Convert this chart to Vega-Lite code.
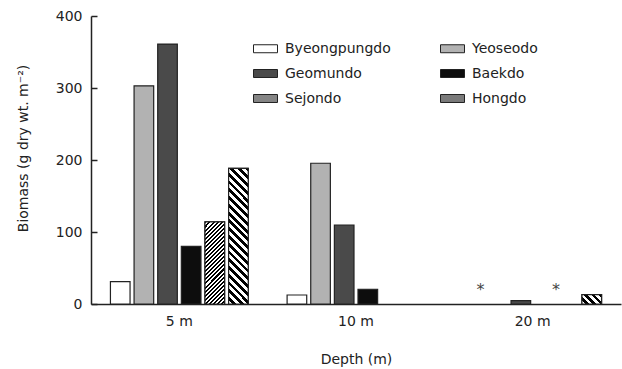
{
  "$schema": "https://vega.github.io/schema/vega-lite/v6.json",
  "width": 530,
  "height": 288,
  "autosize": "none",
  "padding": {"left": 91, "top": 16, "right": 1, "bottom": 65},
  "background": "white",
  "config": {
    "font": "DejaVu Sans",
    "view": {"stroke": null},
    "axis": {"labelFont": "DejaVu Sans", "titleFont": "DejaVu Sans", "labelFontSize": 14, "titleFontSize": 14, "titleFontWeight": "normal", "labelColor": "#222", "titleColor": "#222", "domainColor": "#222", "domainWidth": 1.5, "grid": false},
    "legend": {"labelFont": "DejaVu Sans"}
  },
  "data": {
    "values": [
      {"depth": "5 m", "site": "Byeongpungdo", "biomass": 31},
      {"depth": "5 m", "site": "Yeoseodo", "biomass": 303},
      {"depth": "5 m", "site": "Geomundo", "biomass": 361},
      {"depth": "5 m", "site": "Baekdo", "biomass": 80},
      {"depth": "5 m", "site": "Sejondo", "biomass": 114},
      {"depth": "5 m", "site": "Hongdo", "biomass": 188.5},
      {"depth": "10 m", "site": "Byeongpungdo", "biomass": 12.5},
      {"depth": "10 m", "site": "Yeoseodo", "biomass": 195.5},
      {"depth": "10 m", "site": "Geomundo", "biomass": 109.5},
      {"depth": "10 m", "site": "Baekdo", "biomass": 20.5},
      {"depth": "20 m", "site": "Geomundo", "biomass": 4.6},
      {"depth": "20 m", "site": "Hongdo", "biomass": 13},
      {"depth": "20 m", "site": "Byeongpungdo", "biomass": 0, "note": "*"},
      {"depth": "20 m", "site": "Baekdo", "biomass": 0, "note": "*"}
    ]
  },
  "encoding": {
    "x": {
      "field": "depth", "type": "nominal", "sort": ["5 m", "10 m", "20 m"],
      "scale": {"paddingInner": 0.22, "paddingOuter": 0.11},
      "axis": {"title": "Depth (m)", "labelAngle": 0, "ticks": false, "tickSize": 0, "labelPadding": 10, "titleY": 55, "titleBaseline": "middle"}
    },
    "xOffset": {
      "field": "site", "type": "nominal",
      "scale": {"domain": ["Byeongpungdo", "Yeoseodo", "Geomundo", "Baekdo", "Sejondo", "Hongdo"], "paddingInner": 0.17, "paddingOuter": 0}
    },
    "y": {
      "field": "biomass", "type": "quantitative",
      "scale": {"domain": [0, 400], "nice": false},
      "axis": {"title": "Biomass (g dry wt. m⁻²)", "values": [0, 100, 200, 300, 400], "tickSize": -6, "tickColor": "#222", "tickWidth": 1.5, "labelPadding": 15, "titleX": -68, "titleY": 132, "titleBaseline": "middle", "titleAngle": 270}
    }
  },
  "layer": [
    {
      "transform": [{"filter": "!datum.note"}],
      "mark": {"type": "bar", "stroke": "#222", "strokeWidth": 1.2},
      "encoding": {
        "fill": {
          "field": "site", "type": "nominal",
          "scale": {"domain": ["Byeongpungdo", "Geomundo", "Sejondo", "Yeoseodo", "Baekdo", "Hongdo"], "range": ["#ffffff", "#4a4a4a", "#858585", "#b2b2b2", "#0d0d0d", "#7a7a7a"]},
          "legend": {
            "title": null, "orient": "none", "legendX": 162, "legendY": 20, "columns": 2, "columnPadding": 47, "rowPadding": 5, "padding": 0,
            "symbolType": "M-1,-0.333L1,-0.333L1,0.333L-1,0.333Z", "symbolSize": 576, "symbolStrokeColor": "#222", "symbolStrokeWidth": 1, "symbolOpacity": 1,
            "labelFontSize": 14, "labelColor": "#222", "labelOffset": 7
          }
        }
      }
    },
    {
      "transform": [{"filter": "datum.site === 'Sejondo' && datum.depth === '5 m'"}],
      "mark": {"type": "bar", "stroke": "#222", "strokeWidth": 1.2, "fill": {"gradient": "linear", "x1": 0, "y1": 0, "x2": 0.2806, "y2": 1.1723, "stops": [
        {"offset": 0, "color": "#000"}, {"offset": 0.02, "color": "#000"}, {"offset": 0.02, "color": "#fff"}, {"offset": 0.04, "color": "#fff"},
        {"offset": 0.04, "color": "#000"}, {"offset": 0.06, "color": "#000"}, {"offset": 0.06, "color": "#fff"}, {"offset": 0.08, "color": "#fff"},
        {"offset": 0.08, "color": "#000"}, {"offset": 0.1, "color": "#000"}, {"offset": 0.1, "color": "#fff"}, {"offset": 0.12, "color": "#fff"},
        {"offset": 0.12, "color": "#000"}, {"offset": 0.14, "color": "#000"}, {"offset": 0.14, "color": "#fff"}, {"offset": 0.16, "color": "#fff"},
        {"offset": 0.16, "color": "#000"}, {"offset": 0.18, "color": "#000"}, {"offset": 0.18, "color": "#fff"}, {"offset": 0.2, "color": "#fff"},
        {"offset": 0.2, "color": "#000"}, {"offset": 0.22, "color": "#000"}, {"offset": 0.22, "color": "#fff"}, {"offset": 0.24, "color": "#fff"},
        {"offset": 0.24, "color": "#000"}, {"offset": 0.26, "color": "#000"}, {"offset": 0.26, "color": "#fff"}, {"offset": 0.28, "color": "#fff"},
        {"offset": 0.28, "color": "#000"}, {"offset": 0.3, "color": "#000"}, {"offset": 0.3, "color": "#fff"}, {"offset": 0.32, "color": "#fff"},
        {"offset": 0.32, "color": "#000"}, {"offset": 0.34, "color": "#000"}, {"offset": 0.34, "color": "#fff"}, {"offset": 0.36, "color": "#fff"},
        {"offset": 0.36, "color": "#000"}, {"offset": 0.38, "color": "#000"}, {"offset": 0.38, "color": "#fff"}, {"offset": 0.4, "color": "#fff"},
        {"offset": 0.4, "color": "#000"}, {"offset": 0.42, "color": "#000"}, {"offset": 0.42, "color": "#fff"}, {"offset": 0.44, "color": "#fff"},
        {"offset": 0.44, "color": "#000"}, {"offset": 0.46, "color": "#000"}, {"offset": 0.46, "color": "#fff"}, {"offset": 0.48, "color": "#fff"},
        {"offset": 0.48, "color": "#000"}, {"offset": 0.5, "color": "#000"}, {"offset": 0.5, "color": "#fff"}, {"offset": 0.52, "color": "#fff"},
        {"offset": 0.52, "color": "#000"}, {"offset": 0.54, "color": "#000"}, {"offset": 0.54, "color": "#fff"}, {"offset": 0.56, "color": "#fff"},
        {"offset": 0.56, "color": "#000"}, {"offset": 0.58, "color": "#000"}, {"offset": 0.58, "color": "#fff"}, {"offset": 0.6, "color": "#fff"},
        {"offset": 0.6, "color": "#000"}, {"offset": 0.62, "color": "#000"}, {"offset": 0.62, "color": "#fff"}, {"offset": 0.64, "color": "#fff"},
        {"offset": 0.64, "color": "#000"}, {"offset": 0.66, "color": "#000"}, {"offset": 0.66, "color": "#fff"}, {"offset": 0.68, "color": "#fff"},
        {"offset": 0.68, "color": "#000"}, {"offset": 0.7, "color": "#000"}, {"offset": 0.7, "color": "#fff"}, {"offset": 0.72, "color": "#fff"},
        {"offset": 0.72, "color": "#000"}, {"offset": 0.74, "color": "#000"}, {"offset": 0.74, "color": "#fff"}, {"offset": 0.76, "color": "#fff"},
        {"offset": 0.76, "color": "#000"}, {"offset": 0.78, "color": "#000"}, {"offset": 0.78, "color": "#fff"}, {"offset": 0.8, "color": "#fff"},
        {"offset": 0.8, "color": "#000"}, {"offset": 0.82, "color": "#000"}, {"offset": 0.82, "color": "#fff"}, {"offset": 0.84, "color": "#fff"},
        {"offset": 0.84, "color": "#000"}, {"offset": 0.86, "color": "#000"}, {"offset": 0.86, "color": "#fff"}, {"offset": 0.88, "color": "#fff"},
        {"offset": 0.88, "color": "#000"}, {"offset": 0.9, "color": "#000"}, {"offset": 0.9, "color": "#fff"}, {"offset": 0.92, "color": "#fff"},
        {"offset": 0.92, "color": "#000"}, {"offset": 0.94, "color": "#000"}, {"offset": 0.94, "color": "#fff"}, {"offset": 0.96, "color": "#fff"},
        {"offset": 0.96, "color": "#000"}, {"offset": 0.98, "color": "#000"}, {"offset": 0.98, "color": "#fff"}, {"offset": 1, "color": "#fff"}
      ]}}
    },
    {
      "transform": [{"filter": "datum.site === 'Hongdo' && datum.depth === '5 m'"}],
      "mark": {"type": "bar", "stroke": "#222", "strokeWidth": 1.2, "fill": {"gradient": "linear", "x1": 1, "y1": 0, "x2": 0.8376, "y2": 1.1214, "stops": [
        {"offset": 0, "color": "#000"}, {"offset": 0.025, "color": "#000"}, {"offset": 0.025, "color": "#fff"}, {"offset": 0.05, "color": "#fff"},
        {"offset": 0.05, "color": "#000"}, {"offset": 0.075, "color": "#000"}, {"offset": 0.075, "color": "#fff"}, {"offset": 0.1, "color": "#fff"},
        {"offset": 0.1, "color": "#000"}, {"offset": 0.125, "color": "#000"}, {"offset": 0.125, "color": "#fff"}, {"offset": 0.15, "color": "#fff"},
        {"offset": 0.15, "color": "#000"}, {"offset": 0.175, "color": "#000"}, {"offset": 0.175, "color": "#fff"}, {"offset": 0.2, "color": "#fff"},
        {"offset": 0.2, "color": "#000"}, {"offset": 0.225, "color": "#000"}, {"offset": 0.225, "color": "#fff"}, {"offset": 0.25, "color": "#fff"},
        {"offset": 0.25, "color": "#000"}, {"offset": 0.275, "color": "#000"}, {"offset": 0.275, "color": "#fff"}, {"offset": 0.3, "color": "#fff"},
        {"offset": 0.3, "color": "#000"}, {"offset": 0.325, "color": "#000"}, {"offset": 0.325, "color": "#fff"}, {"offset": 0.35, "color": "#fff"},
        {"offset": 0.35, "color": "#000"}, {"offset": 0.375, "color": "#000"}, {"offset": 0.375, "color": "#fff"}, {"offset": 0.4, "color": "#fff"},
        {"offset": 0.4, "color": "#000"}, {"offset": 0.425, "color": "#000"}, {"offset": 0.425, "color": "#fff"}, {"offset": 0.45, "color": "#fff"},
        {"offset": 0.45, "color": "#000"}, {"offset": 0.475, "color": "#000"}, {"offset": 0.475, "color": "#fff"}, {"offset": 0.5, "color": "#fff"},
        {"offset": 0.5, "color": "#000"}, {"offset": 0.525, "color": "#000"}, {"offset": 0.525, "color": "#fff"}, {"offset": 0.55, "color": "#fff"},
        {"offset": 0.55, "color": "#000"}, {"offset": 0.575, "color": "#000"}, {"offset": 0.575, "color": "#fff"}, {"offset": 0.6, "color": "#fff"},
        {"offset": 0.6, "color": "#000"}, {"offset": 0.625, "color": "#000"}, {"offset": 0.625, "color": "#fff"}, {"offset": 0.65, "color": "#fff"},
        {"offset": 0.65, "color": "#000"}, {"offset": 0.675, "color": "#000"}, {"offset": 0.675, "color": "#fff"}, {"offset": 0.7, "color": "#fff"},
        {"offset": 0.7, "color": "#000"}, {"offset": 0.725, "color": "#000"}, {"offset": 0.725, "color": "#fff"}, {"offset": 0.75, "color": "#fff"},
        {"offset": 0.75, "color": "#000"}, {"offset": 0.775, "color": "#000"}, {"offset": 0.775, "color": "#fff"}, {"offset": 0.8, "color": "#fff"},
        {"offset": 0.8, "color": "#000"}, {"offset": 0.825, "color": "#000"}, {"offset": 0.825, "color": "#fff"}, {"offset": 0.85, "color": "#fff"},
        {"offset": 0.85, "color": "#000"}, {"offset": 0.875, "color": "#000"}, {"offset": 0.875, "color": "#fff"}, {"offset": 0.9, "color": "#fff"},
        {"offset": 0.9, "color": "#000"}, {"offset": 0.925, "color": "#000"}, {"offset": 0.925, "color": "#fff"}, {"offset": 0.95, "color": "#fff"},
        {"offset": 0.95, "color": "#000"}, {"offset": 0.975, "color": "#000"}, {"offset": 0.975, "color": "#fff"}, {"offset": 1, "color": "#fff"}
      ]}}
    },
    {
      "transform": [{"filter": "datum.site === 'Hongdo' && datum.depth === '20 m'"}],
      "mark": {"type": "bar", "stroke": "#222", "strokeWidth": 1.2, "fill": {"gradient": "linear", "x1": 1, "y1": 0, "x2": -0.2034, "y2": 0.5732, "stops": [
        {"offset": 0, "color": "#000"}, {"offset": 0.125, "color": "#000"}, {"offset": 0.125, "color": "#fff"}, {"offset": 0.25, "color": "#fff"},
        {"offset": 0.25, "color": "#000"}, {"offset": 0.375, "color": "#000"}, {"offset": 0.375, "color": "#fff"}, {"offset": 0.5, "color": "#fff"},
        {"offset": 0.5, "color": "#000"}, {"offset": 0.625, "color": "#000"}, {"offset": 0.625, "color": "#fff"}, {"offset": 0.75, "color": "#fff"},
        {"offset": 0.75, "color": "#000"}, {"offset": 0.875, "color": "#000"}, {"offset": 0.875, "color": "#fff"}, {"offset": 1, "color": "#fff"}
      ]}}
    },
    {
      "transform": [{"filter": "datum.note === '*' && datum.site === 'Byeongpungdo'"}],
      "mark": {"type": "text", "dx": 7, "dy": -9, "baseline": "alphabetic", "fontSize": 16, "fill": "#444", "font": "DejaVu Sans"},
      "encoding": {"text": {"field": "note", "type": "nominal"}}
    },
    {
      "transform": [{"filter": "datum.note === '*' && datum.site === 'Baekdo'"}],
      "mark": {"type": "text", "dx": 11.5, "dy": -9, "baseline": "alphabetic", "fontSize": 16, "fill": "#444", "font": "DejaVu Sans"},
      "encoding": {"text": {"field": "note", "type": "nominal"}}
    }
  ]
}
